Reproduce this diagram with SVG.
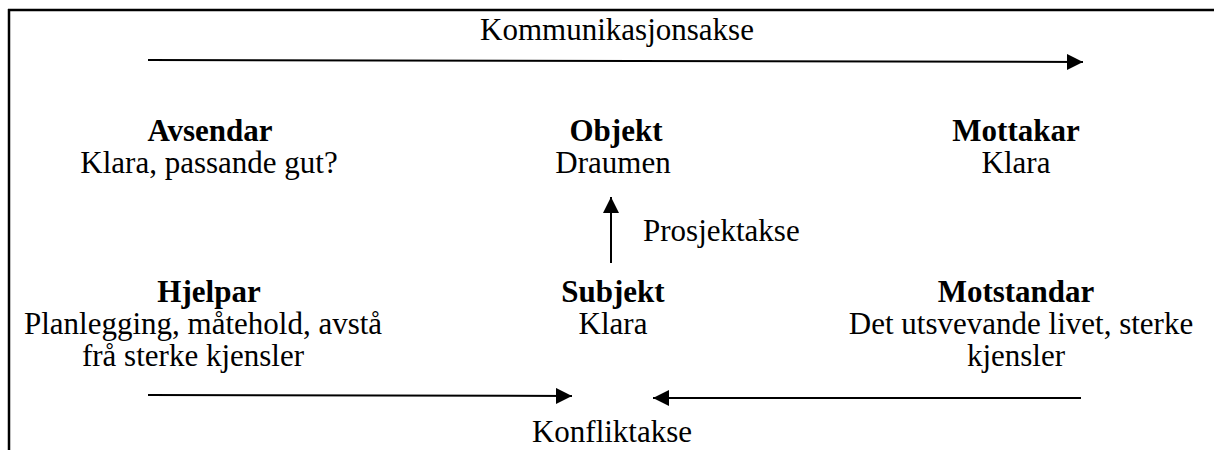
<svg xmlns="http://www.w3.org/2000/svg" width="1214" height="450" viewBox="0 0 1214 450">
<defs>
<style>
text{font-family:"Liberation Serif","Times New Roman",serif;font-size:31px;fill:#000;text-anchor:middle}
.b{font-weight:bold}
.ax{stroke:#000;stroke-width:2;fill:none}
</style>
<marker id="ah" markerWidth="16" markerHeight="16" viewBox="0 0 16 16" refX="16" refY="8" orient="auto" markerUnits="userSpaceOnUse">
<path d="M0,0 L16,8 L0,16 Z" fill="#000"/>
</marker>
</defs>
<rect width="1214" height="450" fill="#fff"/>
<g id="frame">
<line x1="8" y1="10" x2="1214" y2="10" stroke="#000" stroke-width="2.5"/>
<line x1="9" y1="9" x2="9" y2="450" stroke="#000" stroke-width="2.5"/>
</g>
<g id="connectors">
<line class="ax" x1="148" y1="60" x2="1083" y2="62" marker-end="url(#ah)"/>
<line class="ax" x1="611" y1="263" x2="611" y2="197" marker-end="url(#ah)"/>
<line class="ax" x1="148" y1="395" x2="572" y2="396" marker-end="url(#ah)"/>
<line class="ax" x1="1081" y1="398" x2="653" y2="398" marker-end="url(#ah)"/>
</g>
<g id="axis-labels">
<text x="617" y="40">Kommunikasjonsakse</text>
<text x="643" y="241" style="text-anchor:start">Prosjektakse</text>
<text x="612" y="442">Konfliktakse</text>
</g>
<g id="avsendar">
<text class="b" x="210" y="141">Avsendar</text>
<text x="209" y="173">Klara, passande gut?</text>
</g>
<g id="objekt">
<text class="b" x="616" y="141">Objekt</text>
<text x="613" y="173">Draumen</text>
</g>
<g id="mottakar">
<text class="b" x="1016" y="141">Mottakar</text>
<text x="1016" y="173">Klara</text>
</g>
<g id="hjelpar">
<text class="b" x="209" y="302">Hjelpar</text>
<text x="203" y="334">Planlegging, måtehold, avstå</text>
<text x="193" y="366">frå sterke kjensler</text>
</g>
<g id="subjekt">
<text class="b" x="613" y="302">Subjekt</text>
<text x="613" y="334">Klara</text>
</g>
<g id="motstandar">
<text class="b" x="1016" y="302">Motstandar</text>
<text x="1021" y="334">Det utsvevande livet, sterke</text>
<text x="1016" y="366">kjensler</text>
</g>
</svg>
